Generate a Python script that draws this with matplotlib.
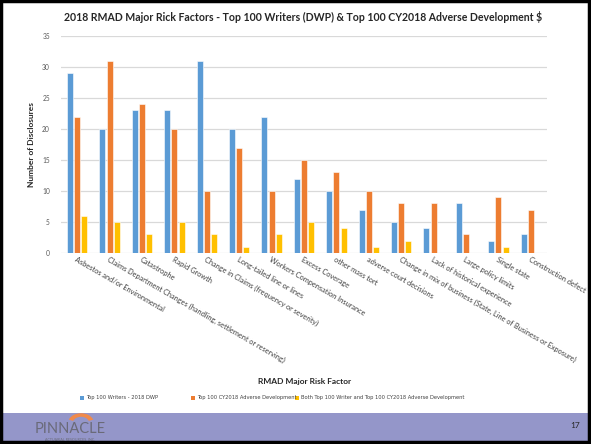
import matplotlib
matplotlib.use("Agg")
import matplotlib.pyplot as plt
import numpy as np
from matplotlib.patches import Rectangle, Wedge

categories = [
    "Asbestos and/or Environmental",
    "Claims Department Changes (handling, settlement or reserving)",
    "Catastrophe",
    "Rapid Growth",
    "Change in Claims (frequency or severity)",
    "Long-tailed line or lines",
    "Workers Compensation Insurance",
    "Excess Coverage",
    "other mass tort",
    "adverse court decisions",
    "Change in mix of business (State, Line of Business or Exposure)",
    "Lack of historical experience",
    "Large policy limits",
    "Single state",
    "Construction defect",
]
top_writers = [29, 20, 23, 23, 31, 20, 22, 12, 10, 7, 5, 4, 8, 2, 3]
top_adverse = [22, 31, 24, 20, 10, 17, 10, 15, 13, 10, 8, 8, 3, 9, 7]
both = [6, 5, 3, 5, 3, 1, 3, 5, 4, 1, 2, 0, 0, 1, 0]
series_names = [
    "Top 100 Writers - 2018 DWP",
    "Top 100 CY2018 Adverse Development",
    "Both Top 100 Writer and Top 100 CY2018 Adverse Development",
]
colors = ["#5B9BD5", "#ED7D31", "#FFC000"]

W, H = 591, 444
fig = plt.figure(figsize=(W / 100, H / 100), dpi=100)
plt.rcParams["font.family"] = ["Lato", "DejaVu Sans"]

def fx(px):
    return px / W

def fy(py):
    return 1 - py / H

# footer band
fig.patches.append(Rectangle((0, 0), 1, fy(413), transform=fig.transFigure,
                             facecolor="#9496C9", edgecolor="none", zorder=0))
# slide border
fig.patches.append(Rectangle((fx(1.5), fy(442)), fx(587.5), fy(1.5) - fy(442),
                             transform=fig.transFigure, facecolor="none",
                             edgecolor="black", linewidth=2.5, zorder=10))

ax = fig.add_axes([fx(61), fy(253), fx(547) - fx(61), fy(36) - fy(253)])
x = np.arange(len(categories))
bw = 0.185
off = 0.225
for i, (vals, c) in enumerate(zip([top_writers, top_adverse, both], colors)):
    ax.bar(x + (i - 1) * off, vals, width=bw, color=c, edgecolor="white",
           linewidth=0.4, label=series_names[i], zorder=3)

ax.set_xlim(-0.5, len(categories) - 0.5)
ax.set_ylim(0, 35)
ax.set_yticks(range(0, 36, 5))
ax.yaxis.grid(True, color="#D9D9D9", linewidth=0.9, zorder=0)
ax.set_axisbelow(True)
for s in ax.spines.values():
    s.set_visible(False)
ax.tick_params(axis="y", length=0, labelsize=4.8, labelcolor="#595959", pad=8)
ax.tick_params(axis="x", length=0, pad=2)
ax.set_xticks(x)
ax.set_xticklabels(categories, rotation=-30, ha="left", va="top",
                   rotation_mode="anchor", fontsize=5.3, color="#404040")

ax.set_ylabel("Number of Disclosures", fontsize=6, fontweight="bold",
              color="#262626", labelpad=5)

fig.text(fx(303), fy(17), "2018 RMAD Major Rick Factors - Top 100 Writers (DWP) & Top 100 CY2018 Adverse Development $",
         ha="center", va="center", fontsize=7.6, fontweight="bold", color="#262626")
fig.text(fx(305), fy(381), "RMAD Major Risk Factor", ha="center", va="center",
         fontsize=6, fontweight="bold", color="#262626")

# legend entries: colour square followed by the series name
legend_x = [80, 191, 295]
for lx, name, c in zip(legend_x, series_names, colors):
    fig.patches.append(Rectangle((fx(lx), fy(400)), fx(4), fy(396) - fy(400),
                                 transform=fig.transFigure, facecolor=c,
                                 edgecolor="none"))
    fig.text(fx(lx + 6), fy(398), name, ha="left", va="center", fontsize=3.7,
             color="#404040", family="DejaVu Sans")

# footer logo and page number
fig.text(fx(70), fy(429), "PINNACLE", ha="center", va="center", fontsize=10.5,
         color="#6A6A78")
fig.text(fx(70), fy(439), "ACTUARIAL RESOURCES, INC.", ha="center", va="center",
         fontsize=2.6, color="#6A6A78")
fig.patches.append(Wedge((fx(81), fy(423)), 0.022, 20, 160, width=0.008,
                         transform=fig.transFigure, facecolor="#F08A4B",
                         edgecolor="none", zorder=2))
fig.text(fx(575), fy(425), "17", ha="center", va="center", fontsize=6,
         color="#262626")

fig.savefig("out.png", dpi=100, facecolor="white")
